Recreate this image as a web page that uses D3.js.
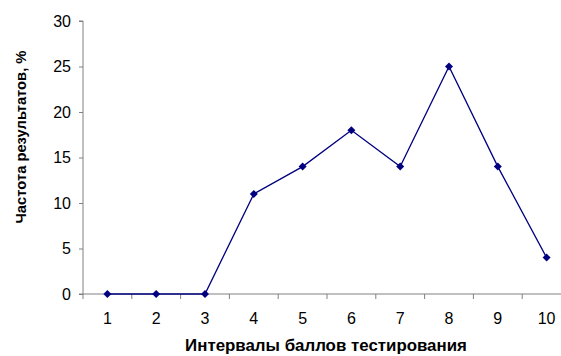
<!DOCTYPE html>
<html><head><meta charset="utf-8">
<script src="https://cdn.jsdelivr.net/npm/d3@7"></script>
<style>body{margin:0;background:#fff}svg{display:block}</style>
</head><body>
<script>
const categories = ["1","2","3","4","5","6","7","8","9","10"];
const values = [0,0,0,11,14,18,14,25,14,4];
const yTicks = [0,5,10,15,20,25,30];
const yTitle = "Частота результатов, %";
const xTitle = "Интервалы баллов тестирования";

(function () {
const W = 561, H = 356;
const svg = d3.select("body").append("svg").attr("width", W).attr("height", H);
const mLeft = 83, mRight = 571, mTop = 21, mBottom = 294;

const x = d3.scaleBand().domain(categories).range([mLeft, mRight]);
const y = d3.scaleLinear().domain([0, 30]).range([mBottom, mTop]);

const font = "Arial, 'Liberation Sans', sans-serif";

// Y axis
const ya = svg.append("g").attr("transform", `translate(${mLeft},0)`)
  .call(d3.axisLeft(y).tickValues(yTicks).tickSize(4).tickPadding(8));
ya.select(".domain").attr("stroke", "#808080").attr("d", `M-4,${mTop}H0V${mBottom}H-4`);
ya.selectAll(".tick line").attr("stroke", "#808080");
ya.selectAll("text").attr("font-family", font).attr("font-size", 16).attr("fill", "#000");

// X axis
const xa = svg.append("g").attr("transform", `translate(0,${mBottom})`)
  .call(d3.axisBottom(x).tickSize(0).tickPadding(19));
xa.select(".domain").attr("stroke", "#808080").attr("d", `M${mLeft},0H${mRight}`);
xa.selectAll("text").attr("font-family", font).attr("font-size", 16).attr("fill", "#000");
xa.selectAll(".btick").data(categories).enter().append("line")
  .attr("x1", d => x(d)).attr("x2", d => x(d)).attr("y1", 0).attr("y2", 5)
  .attr("stroke", "#808080");

// line
const cx = d => x(d) + x.bandwidth() / 2;
const line = d3.line().x((d, i) => cx(categories[i])).y(d => y(d));
svg.append("path").datum(values).attr("d", line)
  .attr("fill", "none").attr("stroke", "#000080").attr("stroke-width", 1.3);

svg.selectAll(".pt").data(values).enter().append("path")
  .attr("transform", (d, i) => `translate(${cx(categories[i])},${y(d)})`)
  .attr("d", "M0,-4L4,0L0,4L-4,0Z").attr("fill", "#000080");

// titles
const yt = svg.append("text").attr("transform", `translate(26,137) rotate(-90)`)
  .attr("text-anchor", "middle").attr("font-family", font).attr("font-weight", "bold")
  .attr("font-size", 15).text(yTitle);
const xt = svg.append("text").attr("x", 326).attr("y", 351)
  .attr("text-anchor", "middle").attr("font-family", font).attr("font-weight", "bold")
  .attr("font-size", 16).text(xTitle);
const fit = (sel, target) => {
  const fs = +sel.attr("font-size");
  const len = sel.node().getComputedTextLength();
  if (len > 0) sel.attr("font-size", (fs * target / len).toFixed(2));
};
fit(yt, 173);
fit(xt, 282);
})();
</script>
</body></html>
